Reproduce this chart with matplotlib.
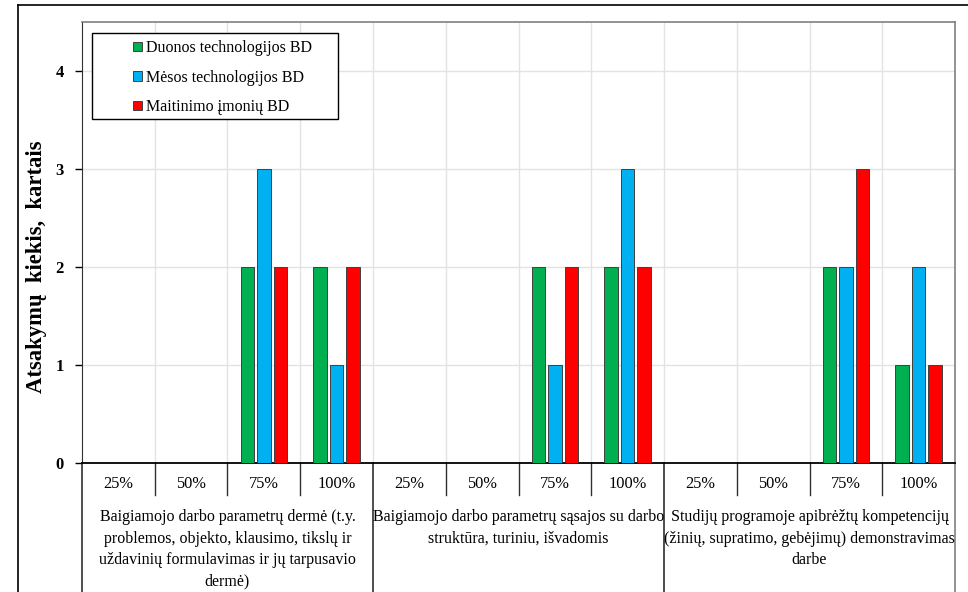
import matplotlib.pyplot as plt
import matplotlib.patches as mpatches
from matplotlib.lines import Line2D
import numpy as np

plt.rcParams['font.family'] = ['Liberation Serif', 'DejaVu Serif']

# Data
levels = ['25%', '50%', '75%', '100%']
groups = ['Baigiamojo darbo parametrų dermė (t.y.\nproblemos, objekto, klausimo, tikslų ir\n'
          'uždavinių formulavimas ir jų tarpusavio\ndermė)',
          'Baigiamojo darbo parametrų sąsajos su darbo\nstruktūra, turiniu, išvadomis',
          'Studijų programoje apibrėžtų kompetencijų\n(žinių, supratimo, gebėjimų) demonstravimas\ndarbe']
series = ['Duonos technologijos BD', 'Mėsos technologijos BD', 'Maitinimo įmonių BD']
duonos = [0, 0, 2, 2, 0, 0, 2, 2, 0, 0, 2, 1]
mesos = [0, 0, 3, 1, 0, 0, 1, 3, 0, 0, 2, 2]
maitinimo = [0, 0, 2, 2, 0, 0, 2, 2, 0, 0, 3, 1]
colors = ['#00B050', '#00B0F0', '#FF0000']

fig = plt.figure(figsize=(9.68, 5.92), dpi=100)
# axes bottom sits on the zero line, labels drawn below by hand
ax = fig.add_axes([0.0847, 0.2179, 0.9019, 0.9628 - 0.2179])

x = np.arange(12)
w = 0.185
step = 0.227
for i, (vals, c) in enumerate(zip([duonos, mesos, maitinimo], colors)):
    ax.bar(x + (i - 1) * step, vals, width=w, color=c, edgecolor='#404040',
           linewidth=0.7, zorder=3)

ax.set_xlim(-0.5, 11.5)
ax.set_ylim(0, 4.5)
ax.set_yticks([0, 1, 2, 3, 4])
ax.set_yticklabels(['0', '1', '2', '3', '4'], fontweight='bold', fontsize=12)
ax.set_xticks([])
ax.tick_params(axis='y', length=5, width=1, pad=8)

# grid
for yv in [1, 2, 3, 4]:
    ax.axhline(yv, color='#e3e3e3', linewidth=1, zorder=0)
for xv in np.arange(0.5, 11.5, 1):
    ax.axvline(xv, color='#e3e3e3', linewidth=1, zorder=0)

for s in ['top', 'right']:
    ax.spines[s].set_color('#808080')
    ax.spines[s].set_linewidth(1.2)
ax.spines['left'].set_color('#303030')
ax.spines['bottom'].set_color('black')
ax.spines['bottom'].set_linewidth(1.3)

fig.text(37 / 968, 1 - 267 / 592, 'Atsakymų  kiekis,  kartais', rotation=90,
         ha='center', va='center', fontsize=16.3, fontweight='bold')

# category axis labels
tr = ax.get_xaxis_transform()
for i in range(12):
    ax.text(i, -0.048, levels[i % 4], transform=tr, ha='center', va='center', fontsize=11.8)
for b in range(13):
    xb = b - 0.5
    if b % 4 == 0:
        ax.plot([xb, xb], [0, -0.30], transform=tr, color='#303030' if b < 12 else '#808080',
                linewidth=1.2, clip_on=False)
    else:
        ax.plot([xb, xb], [0, -0.0726], transform=tr, color='#303030', linewidth=1,
                clip_on=False)
for g, lab in enumerate(groups):
    ax.text(g * 4 + 1.5, -0.104, lab, transform=tr, ha='center', va='top', fontsize=11.5,
            linespacing=1.47)

# legend: frame drawn separately, it is much wider than the entries
ax.add_patch(mpatches.Rectangle((10 / 873, (463 - 119) / 441), 246 / 873, 86 / 441,
                                transform=ax.transAxes, facecolor='white', edgecolor='black',
                                linewidth=1.0, zorder=5))
handles = [mpatches.Patch(facecolor=c, edgecolor='#404040', linewidth=0.7) for c in colors]
leg = ax.legend(handles, series, loc='upper left', bbox_to_anchor=(51 / 873, (463 - 40) / 441),
                fontsize=11.5, frameon=False, handlelength=0.55, handleheight=0.55,
                handletextpad=0.25, labelspacing=0.85, borderpad=0, borderaxespad=0)
leg.set_zorder(6)

# outer frame (cropped at right and bottom)
fig.add_artist(Line2D([18 / 968, 18 / 968], [0, 1 - 5 / 592], color='black', linewidth=1.2))
fig.add_artist(Line2D([18 / 968, 1], [1 - 5 / 592, 1 - 5 / 592], color='black', linewidth=1.2))

fig.savefig('out.png', dpi=100)
